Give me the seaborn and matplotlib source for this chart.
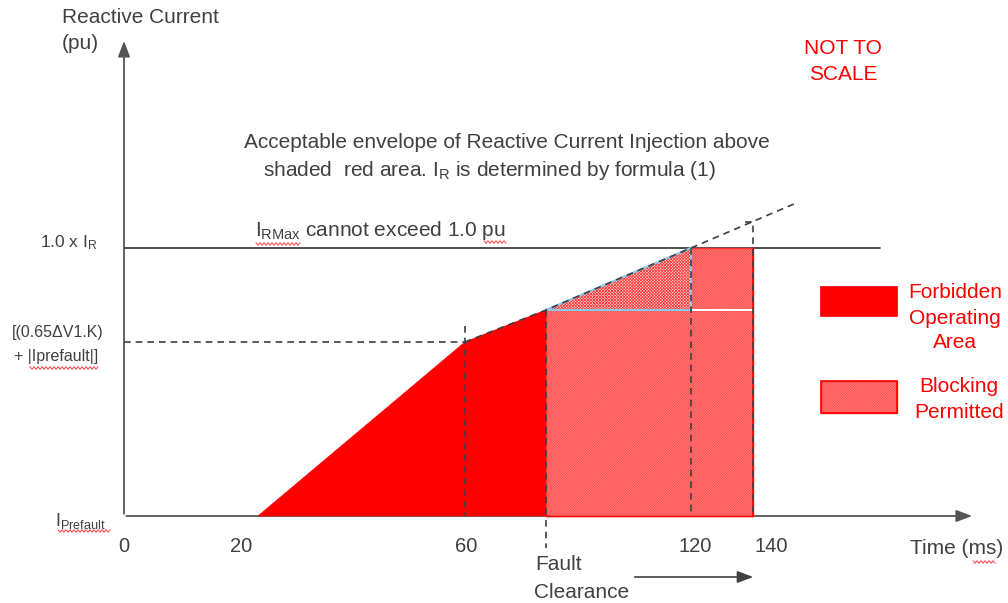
import matplotlib
matplotlib.use("Agg")
import matplotlib.pyplot as plt
from matplotlib.patches import Polygon, Rectangle
import seaborn as sns
import pandas as pd
import numpy as np

# ---- diagram data (not to scale; diagram units) ----
tick_labels = ["0", "20", "60", "120", "140"]
tick_pos = [124, 241, 466, 695, 771]
# envelope breakpoints: start(~20ms), 60ms, fault clearance, 120ms, 140ms
env_x = [258, 465, 546, 691, 753]
env_y = [516, 342, 310, 248, 248]
ext_x = [465, 546, 691, 795]
ext_y = [342, 310, 248, 203.5]
level_ir = 248          # 1.0 x I_R
level_mid = 342         # (0.65 dV1.K) + |Iprefault|
base = 516              # I_Prefault

sns.set_theme(style="white")
plt.rcParams["font.family"] = ["Liberation Sans", "DejaVu Sans"]
plt.rcParams["mathtext.fontset"] = "custom"
plt.rcParams["mathtext.rm"] = "Liberation Sans"
plt.rcParams["hatch.linewidth"] = 0.6

GRAY = "#404040"
AX = "#555555"
RED = "#ff0000"

fig = plt.figure(figsize=(10.08, 6.03), dpi=100)
ax = fig.add_axes([0, 0, 1, 1])

# axes arrows
ax.annotate("", xy=(124, 38), xytext=(124, base + 0.5),
            arrowprops=dict(arrowstyle="-|>,head_length=0.8,head_width=0.3", color=AX, lw=1.3))
ax.annotate("", xy=(975, base), xytext=(123.5, base),
            arrowprops=dict(arrowstyle="-|>,head_length=0.8,head_width=0.3", color=AX, lw=1.3))

# 1.0 x IR line
ax.plot([124, 880], [level_ir, level_ir], color=GRAY, lw=1.3, zorder=2)

# forbidden (solid red) polygon
ax.add_patch(Polygon([(env_x[0], env_y[0]), (env_x[1], env_y[1]), (env_x[2], env_y[2]),
                      (env_x[2], base)], closed=True, facecolor=RED, edgecolor=RED, lw=0.5, zorder=3))

# blocking permitted (hatched) areas
hatch_kw = dict(facecolor="#ffdada", edgecolor="#ff3434", hatch="/" * 20, lw=1.0, zorder=3)
ax.add_patch(Rectangle((env_x[2], env_y[2]), env_x[4] - env_x[2], base - env_y[2], **hatch_kw))
ax.add_patch(Rectangle((env_x[3], env_y[3]), env_x[4] - env_x[3], env_y[2] - env_y[3], **hatch_kw))
ax.plot([env_x[4], env_x[4]], [env_y[3], base], color=RED, lw=1.2, zorder=4)
ax.plot([env_x[2], env_x[4]], [base, base], color=RED, lw=1.0, zorder=4)
ax.plot([env_x[3] + 1, env_x[4] - 1], [env_y[2], env_y[2]], color="white", lw=1.5, zorder=4)
# triangle with finer texture
ax.add_patch(Polygon([(env_x[2], env_y[2]), (env_x[3], env_y[3]), (env_x[3], env_y[2])], closed=True,
                     facecolor="#ffe6e6", edgecolor="#ff3c3c", hatch="x" * 11, lw=0, zorder=3))
ax.add_patch(Polygon([(env_x[2], env_y[2]), (env_x[3], env_y[3]), (env_x[3], env_y[2])], closed=True,
                     facecolor="none", edgecolor="#8cc8e8", lw=1.6, zorder=4))

# dashed helper lines
dash = dict(color=GRAY, lw=1.2, ls=(0, (4, 3)), zorder=5)
ax.plot([124, 465], [level_mid, level_mid], **dash)
ax.plot([465, 465], [326, base], **dash)
ax.plot([546, 546], [env_y[2], 548], **dash)
ax.plot([691, 691], [level_ir, base], **dash)
ax.plot([745, 753, 753], [222, 222, base], **dash)
ext = pd.DataFrame({"x": ext_x, "y": ext_y})
sns.lineplot(data=ext, x="x", y="y", ax=ax, color=GRAY, lw=1.2, ls=(0, (4, 3)),
             sort=False, estimator=None, zorder=5)
ax.set_xlim(0, 1008)
ax.set_ylim(603, 0)
ax.axis("off")


def squiggle(x0, x1, y):
    xs = np.arange(x0, x1 + 0.1, 2.0)
    ys = y + np.where(np.arange(len(xs)) % 2 == 0, -1.2, 1.2)
    ax.plot(xs, ys, color="#ff5050", lw=0.8, zorder=6)


# texts
fs = 15
ax.text(62, 8, "Reactive Current", fontsize=fs, color=GRAY, va="top", ha="left")
ax.text(62, 34, "(pu)", fontsize=fs, color=GRAY, va="top", ha="left")
ax.text(843, 48, "NOT TO", fontsize=fs, color=RED, va="center", ha="center")
ax.text(843, 75, "SCALE", fontsize=fs, color=RED, va="center", ha="center")
ax.text(507, 142, "Acceptable envelope of Reactive Current Injection above",
        fontsize=fs, color=GRAY, va="center", ha="center")
ax.text(489, 170, r"shaded  red area. $\mathregular{I_R}$ is determined by formula (1)",
        fontsize=fs, color=GRAY, va="center", ha="center")
ax.text(255, 231, r"$\mathregular{I_{RMax}}$ cannot exceed 1.0 pu", fontsize=fs, color=GRAY,
        va="center", ha="left")
squiggle(256, 300, 244)
squiggle(484, 507, 242)
ax.text(98, 243, r"1.0 x $\mathregular{I_R}$", fontsize=12.5, color=GRAY, va="center", ha="right")
ax.text(12, 333, "[(0.65ΔV1.K)", fontsize=11.5, color=GRAY, va="center", ha="left")
ax.text(14, 356, "+ |Iprefault|]", fontsize=11.5, color=GRAY, va="center", ha="left")
squiggle(30, 98, 368)
ax.text(55, 521, r"$\mathregular{I_{Prefault}}$", fontsize=13, color=GRAY, va="center", ha="left")
squiggle(58, 110, 531)
for lab, px in zip(tick_labels, tick_pos):
    ax.text(px, 546, lab, fontsize=14.5, color=GRAY, va="center", ha="center")
ax.text(910, 549, "Time (ms)", fontsize=fs, color=GRAY, va="center", ha="left")
squiggle(973, 996, 562)
ax.text(535, 565, "Fault", fontsize=fs, color=GRAY, va="center", ha="left")
ax.text(534, 592, "Clearance", fontsize=fs, color=GRAY, va="center", ha="left")
ax.annotate("", xy=(756, 577), xytext=(632, 577),
            arrowprops=dict(arrowstyle="-|>,head_length=0.8,head_width=0.3", color=GRAY, lw=1.2))

# legend
ax.add_patch(Rectangle((820, 286), 77, 30, facecolor=RED, edgecolor=RED, lw=0.5))
ax.add_patch(Rectangle((821, 381), 76, 32, **hatch_kw))
ax.add_patch(Rectangle((821, 381), 76, 32, facecolor="none", edgecolor=RED, lw=1.2, zorder=4))
for i, t in enumerate(["Forbidden", "Operating", "Area"]):
    ax.text(955, 293 + 25 * i, t, fontsize=fs, color=RED, va="center", ha="center")
for i, t in enumerate(["Blocking", "Permitted"]):
    ax.text(959, 387 + 26 * i, t, fontsize=fs, color=RED, va="center", ha="center")

fig.savefig("out.png", dpi=100)
